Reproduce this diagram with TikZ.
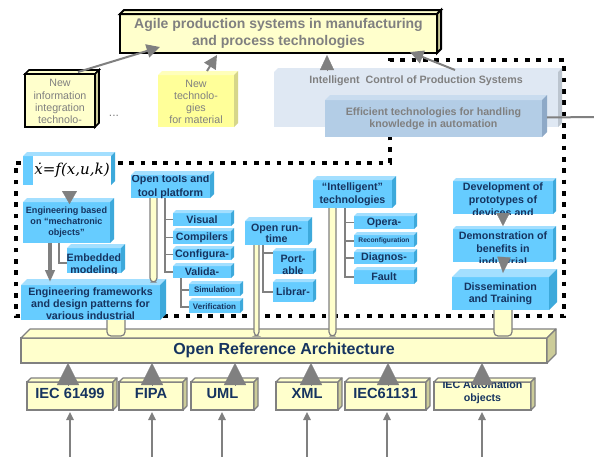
\documentclass[tikz,border=0pt]{standalone}
\usepackage[no-math]{fontspec}
\setmainfont{Liberation Sans}
\newfontfamily\formulafont{DejaVu Serif}
\usetikzlibrary{arrows.meta,calc}

\definecolor{navy}{RGB}{22,52,96}
\definecolor{gtext}{RGB}{128,128,128}
\definecolor{garrow}{RGB}{128,128,128}
\definecolor{skyf}{HTML}{66CCFF}
\definecolor{skyt}{HTML}{A3DFFF}
\definecolor{skys}{HTML}{3DA9DB}
\definecolor{ltyel}{HTML}{FFFFCC}
\definecolor{dkyel}{HTML}{CCCC99}
\definecolor{ntmf}{HTML}{FFFF99}
\definecolor{ntmt}{HTML}{FFFFBB}
\definecolor{ntms}{HTML}{D6D68A}
\definecolor{stlf}{HTML}{B3CDE6}
\definecolor{stlt}{HTML}{C9DCEF}
\definecolor{stls}{HTML}{8EA9C7}
\definecolor{palef}{HTML}{DFE8F3}
\definecolor{pales}{HTML}{BCC5CF}
\definecolor{edgegray}{RGB}{128,128,128}

\tikzset{
  txt/.style={align=center, inner sep=0pt, text=navy, font=\bfseries\fontsize{8}{9.5}\selectfont},
  gtxt/.style={text=gtext},
  bluef/.style={fill=skyf}, bluet/.style={fill=skyt}, blues/.style={fill=skys},
  yelf/.style={fill=ltyel, draw=edgegray, line width=0.9pt},
  yelt/.style={fill=ltyel, draw=edgegray, line width=0.9pt, line join=round},
  yels/.style={fill=dkyel, draw=edgegray, line width=0.9pt, line join=round},
  agf/.style={fill=ltyel, draw=black, line width=1.5pt},
  agt/.style={fill=ltyel, draw=black, line width=1.5pt},
  ags/.style={fill=dkyel, draw=black, line width=1.5pt},
  nif/.style={fill=ltyel, draw=black, line width=1.2pt},
  nit/.style={fill=ltyel, draw=black, line width=1.2pt},
  nis/.style={fill=dkyel, draw=black, line width=1.2pt},
  ntf/.style={fill=ntmf}, ntt/.style={fill=ntmt}, nts/.style={fill=ntms},
  stlf/.style={fill=stlf}, stlt/.style={fill=stlt}, stls/.style={fill=stls},
  palef/.style={fill=palef}, palet/.style={fill=palef}, pales/.style={fill=pales},
  dotline/.style={draw=black, line width=3.5pt, dash pattern=on 3.5pt off 5pt},
  conn/.style={draw=garrow, line width=1.5pt},
  garr/.style={conn, -{Triangle[length=10pt,width=10pt]}},
  tree/.style={draw=garrow, line width=1.1pt},
  pillar/.style={fill=ltyel, draw=edgegray, line width=0.9pt, rounded corners=3pt},
  smallarr/.style={draw=garrow, line width=1.5pt, -{Triangle[length=6pt,width=5.5pt]}},
}

% name, x1, y1, x2, y2, depth, kind, text options, text
\newcommand\cubebox[9]{%
  \node[#7f, anchor=north west, inner sep=0pt, outer sep=0pt,
        minimum width={(#4-#2)*0.75pt}, minimum height={(#5-#3)*0.75pt}] (#1) at (#2,#3) {};
  \path[#7t] (#1.north west) -- ++(#6,-#6) -- ([shift={(#6,-#6)}]#1.north east) -- (#1.north east) -- cycle;
  \path[#7s] (#1.north east) -- ++(#6,-#6) -- ([shift={(#6,-#6)}]#1.south east) -- (#1.south east) -- cycle;
  \begin{scope}
    \clip (#1.north west) rectangle (#1.south east);
    \node[txt, at={(#1.center)}, #8] (#1-t) {#9};
  \end{scope}}

% from, to, xoff1, xoff2, stop above target
\newcommand\pillar[5]{%
  \draw[pillar] ($(#1.south west)+(#3,0)$) -- ($(#1.south west |- #2.north)+(#3,-#5)$)
     -- ($(#1.south west |- #2.north)+(#4,-#5)$) -- ($(#1.south west)+(#4,0)$);}

\begin{document}
\begin{tikzpicture}[x=0.75pt,y=-0.75pt]
\useasboundingbox[fill=white] (0,0) rectangle (594,457);

% dotted region
\draw[dotline] (16,163) -- (390,163) -- (390,60) -- (564,60) -- (564,316) -- (16,316) -- cycle;

% ---------- top ----------
\cubebox{agile}{120}{14}{437}{53}{4}{ag}{gtxt, font=\bfseries\fontsize{10.5}{12.75}\selectfont}{Agile production systems in manufacturing\\and process technologies}

\cubebox{nii}{25}{74}{95}{127}{4}{ni}{gtxt, font=\fontsize{8}{9.2}\selectfont, at={(nii.north)}, anchor=north, yshift=-4pt}{New\\information\\integration\\technolo-}
\node[text=gtext, font=\fontsize{9}{9}\selectfont, inner sep=0pt] (dots) at (114,116) {...};

\cubebox{ntm}{158}{75}{234}{127}{4}{nt}{gtxt, font=\fontsize{8}{9.2}\selectfont, at={(ntm.north)}, anchor=north, yshift=-3.4pt}{New\\technolo-\\gies\\for material}

\cubebox{icps}{274}{72}{558}{127}{4}{pale}{gtxt, font=\bfseries\fontsize{8}{9}\selectfont, at={(icps.north)}, anchor=north, yshift=-3pt}{Intelligent\ \ Control of Production Systems}

\cubebox{eff}{325}{100}{542}{137}{5}{stl}{gtxt, font=\bfseries\fontsize{8}{9}\selectfont}{Efficient technologies for handling\\knowledge in automation}
\coordinate (redge) at (594,117);
\draw[conn] ($(eff.east)+(5,-1)$) -- (redge);

\draw[garr] ($(nii.north)+(18,-2)$) -- ($(agile.south west)+(40,-6)$);
\draw[garr] ($(ntm.north)+(11,-4)$) -- ($(agile.south west)+(97,2)$);
\draw[draw=garrow, line width=0.2pt, -{Triangle[length=11.25pt,width=10.5pt]}] ($(icps.north west)+(53,-1)$) -- ($(agile.south west)+(207,2)$);
\draw[garr] ($(icps.north west)+(181,-2)$) -- ($(agile.south east)+(-27,-1)$);

% ---------- bottom bar ----------
\cubebox{ora}{21}{338}{547}{363}{9}{yel}{font=\bfseries\fontsize{12}{12}\selectfont}{Open Reference Architecture}

% ---------- left column ----------
\cubebox{fx}{23}{156}{111}{185}{4}{blue}{at={($(fx.center)+(5,0)$)}, fill=white, text=black,
   minimum width={78*0.75pt}, minimum height={29*0.75pt}, font=\formulafont\itshape\fontsize{11.3}{11.3}\selectfont}{ẋ=f(x,u,k)}

\cubebox{ebm}{23}{202}{110}{243}{4}{blue}{font=\bfseries\fontsize{6.8}{8.25}\selectfont}{Engineering based\\on “mechatronic\\objects”}
\cubebox{emb}{67}{248}{121}{273}{4}{blue}{at={(emb.north)}, anchor=north, yshift=-4.5pt, font=\bfseries\fontsize{8}{9}\selectfont}{Embedded\\modeling}
\cubebox{ef}{21}{285}{160}{320}{6}{blue}{at={(ef.north)}, anchor=north, yshift=-2.25pt, font=\bfseries\fontsize{8}{9}\selectfont}{Engineering frameworks\\and design patterns for\\various industrial}

\draw[draw=garrow, line width=0.2pt, -{Triangle[length=9.75pt,width=11.25pt]}] ($(fx.south)+(2.5,6)$) -- ($(ebm.north)+(3,2)$);
\draw[draw=garrow, line width=3pt, -{Triangle[length=9pt,width=7pt]}] ($(ebm.south west)+(27,0)$) -- ($(ef.north west)+(29,-3)$);
\draw[tree] ($(ebm.south west)+(36,0)$) |- ($(emb.north west)+(0,15)$);

% ---------- open tools ----------
\cubebox{ot}{131}{175}{210}{198}{4}{blue}{font=\bfseries\fontsize{8}{10.5}\selectfont}{Open tools and\\tool platform}
\cubebox{vis}{173}{213}{231}{226}{3}{blue}{}{Visual}
\cubebox{comp}{173}{231}{231}{244}{3}{blue}{}{Compilers}
\cubebox{conf}{173}{249}{231}{260}{3}{blue}{}{Configura-}
\cubebox{vali}{173}{266}{231}{278}{3}{blue}{}{Valida-}
\cubebox{sim}{189}{284}{240}{296}{3}{blue}{font=\bfseries\fontsize{6}{6}\selectfont}{Simulation}
\cubebox{ver}{189}{301}{240}{313}{3}{blue}{font=\bfseries\fontsize{6}{6}\selectfont}{Verification}
\foreach \b in {vis,comp,conf,vali} \draw[tree] ($(ot.south west)+(34,0)$) |- (\b.west);
\foreach \b in {sim,ver} \draw[tree] ($(vali.south west)+(8,0)$) |- (\b.west);

% ---------- open run-time ----------
\cubebox{ort}{245}{221}{308}{245}{4}{blue}{font=\bfseries\fontsize{8}{8.25}\selectfont}{Open run-\\time}
\cubebox{port}{273}{251}{313}{274}{3}{blue}{at={(port.north)}, anchor=north, yshift=-3pt, font=\bfseries\fontsize{8}{9}\selectfont}{Port-\\able}
\cubebox{lib}{273}{282}{313}{302}{3}{blue}{}{Librar-}
\draw[tree] ($(ort.south west)+(18,0)$) |- ($(port.north west)+(0,2)$);
\draw[tree] ($(ort.south west)+(18,0)$) |- (lib.west);

% ---------- intelligent technologies ----------
\cubebox{itech}{313}{180}{392}{208}{4}{blue}{font=\bfseries\fontsize{8}{9.75}\selectfont}{“Intelligent”\\technologies}
\cubebox{opera}{354}{216}{414}{229}{3}{blue}{}{Opera-}
\cubebox{reconf}{354}{235}{414}{247}{3}{blue}{font=\bfseries\fontsize{5}{5}\selectfont}{Reconfiguration}
\cubebox{diag}{354}{252}{414}{264}{3}{blue}{}{Diagnos-}
\cubebox{fault}{354}{270}{414}{284}{3}{blue}{}{Fault}
\foreach \b in {opera,reconf,diag,fault} \draw[tree] ($(itech.south west)+(32,0)$) |- (\b.west);

% ---------- right column ----------
\cubebox{dev}{453}{181}{553}{214}{3}{blue}{at={(dev.north)}, anchor=north, yshift=-1pt, font=\bfseries\fontsize{8}{9.75}\selectfont}{Development of\\prototypes of\\devices and}
\cubebox{demo}{453}{229}{553}{262}{3}{blue}{at={(demo.north)}, anchor=north, yshift=-2.2pt, font=\bfseries\fontsize{8}{9.5}\selectfont}{Demonstration of\\benefits in\\industrial}
\cubebox{diss}{452}{277}{549}{310}{8}{blue}{font=\bfseries\fontsize{8}{9}\selectfont}{Dissemination\\and Training}
\draw[draw=garrow, line width=0.2pt, -{Triangle[length=9.75pt,width=10pt]}] ($(dev.south)+(0,-1)$) -- ($(demo.north)+(0,-3)$);
\draw[draw=garrow, line width=0.2pt, -{Triangle[length=12pt,width=10pt]}] ($(demo.south)+(1,-5)$) -- ($(diss.north)+(2.5,-4)$);

% ---------- pillars ----------
\pillar{ot}{ef}{19}{26}{3}
\pillar{ef}{ora}{86}{104}{2}
\pillar{ort}{ora}{9}{14}{2}
\pillar{itech}{ora}{16}{23}{2}
\pillar{diss}{ora}{42}{60}{2}

% ---------- standards ----------
\cubebox{iec1}{27}{382}{113}{410}{4}{yel}{font=\bfseries\fontsize{11}{11}\selectfont, yshift=2pt}{IEC 61499}
\cubebox{fipa}{119}{382}{183}{410}{4}{yel}{font=\bfseries\fontsize{11}{11}\selectfont, yshift=2pt}{FIPA}
\cubebox{uml}{191}{382}{254}{410}{4}{yel}{font=\bfseries\fontsize{11}{11}\selectfont, yshift=2pt}{UML}
\cubebox{xml}{276}{382}{338}{410}{4}{yel}{font=\bfseries\fontsize{11}{11}\selectfont, yshift=2pt}{XML}
\cubebox{iec2}{345}{382}{426}{410}{4}{yel}{font=\bfseries\fontsize{11}{11}\selectfont, yshift=2pt}{IEC61131}
\cubebox{iecao}{434}{382}{531}{410}{4}{yel}{font=\bfseries\fontsize{8}{9.75}\selectfont, yshift=3pt}{IEC Automation\\objects}

\foreach \b/\o in {iec1/41, fipa/33, uml/44, xml/35, iec2/43, iecao/48}
  \draw[draw=garrow, line width=0.2pt, -{Triangle[length=16.5pt,width=16.5pt]}]
    ($(\b.north west)+(\o,3)$) -- ($(\b.north west |- ora.south)+(\o,0)$);

\foreach \b/\o in {iec1/43, fipa/33, uml/31, xml/31, iec2/42, iecao/48} {
  \coordinate (\b-in) at ($(\b.south west |- 0,457)+(\o,0)$);
  \draw[smallarr] (\b-in) -- ($(\b.south west)+(\o,2)$);
}
\end{tikzpicture}
\end{document}
